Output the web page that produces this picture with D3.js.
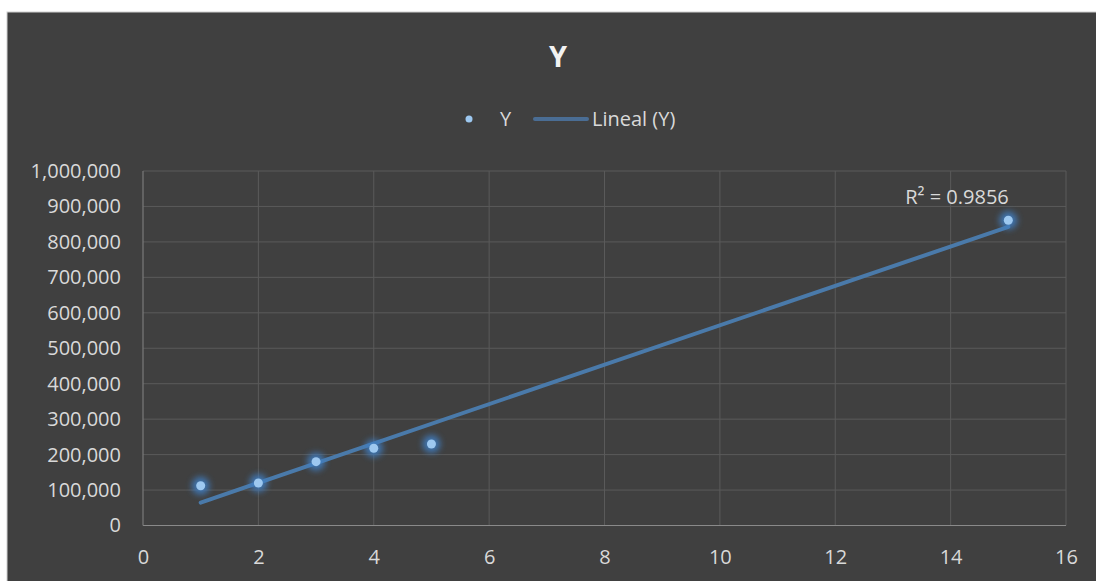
<!DOCTYPE html>
<html><head><meta charset="utf-8">
<script src="https://cdn.jsdelivr.net/npm/d3@7"></script>
<style>html,body{margin:0;padding:0;background:#fff;overflow:hidden}</style>
</head><body>
<svg id="c" width="1096" height="581"></svg>
<script>
const xValues = [1, 2, 3, 4, 5, 15];
const yValues = [112000, 120000, 180000, 218000, 230000, 861000];
const xTicks = [0, 2, 4, 6, 8, 10, 12, 14, 16];
const yTicks = [0, 100000, 200000, 300000, 400000, 500000, 600000, 700000, 800000, 900000, 1000000];
const r2Label = "R² = 0.9856";
const seriesName = "Y";
const trendName = "Lineal (Y)";

const svg = d3.select("#c");
const font = "'Open Sans', 'Noto Sans', sans-serif";
svg.append("rect").attr("x", 7).attr("y", 12).attr("width", 1100).attr("height", 580)
  .attr("fill", "#404040").attr("stroke", "#d0d0d0").attr("stroke-width", 1);

const x = d3.scaleLinear().domain([0, 16]).range([143, 1066]);
const y = d3.scaleLinear().domain([0, 1000000]).range([525.5, 171]);

const defs = svg.append("defs");
const f = defs.append("filter").attr("id", "glow").attr("x", "-100%").attr("y", "-100%").attr("width", "300%").attr("height", "300%");
f.append("feGaussianBlur").attr("stdDeviation", 3);

const g = svg.append("g");
g.selectAll(".hg").data(yTicks.slice(1)).join("line")
  .attr("x1", x(0)).attr("x2", x(16)).attr("y1", d => y(d)).attr("y2", d => y(d))
  .attr("stroke", "#5a5a5a").attr("stroke-width", 1);
g.selectAll(".vg").data(xTicks.slice(1)).join("line")
  .attr("x1", d => x(d)).attr("x2", d => x(d)).attr("y1", y(0)).attr("y2", y(1000000))
  .attr("stroke", "#5a5a5a").attr("stroke-width", 1);
g.append("line").attr("x1", x(0)).attr("x2", x(16)).attr("y1", y(0)).attr("y2", y(0)).attr("stroke", "#8a8a8a").attr("stroke-width", 1.2);
g.append("line").attr("x1", x(0)).attr("x2", x(0)).attr("y1", y(0)).attr("y2", y(1000000)).attr("stroke", "#7a7a7a").attr("stroke-width", 1.2);

const yAxis = d3.axisLeft(y).tickValues(yTicks).tickFormat(d3.format(",")).tickSize(0).tickPadding(22);
const ya = svg.append("g").attr("transform", `translate(${x(0)},0)`).call(yAxis);
ya.select(".domain").remove();
ya.selectAll("text").attr("fill", "#d9d9d9").style("font-family", font).style("font-size", "20px");
const xAxis = d3.axisBottom(x).tickValues(xTicks).tickSize(0).tickPadding(24);
const xa = svg.append("g").attr("transform", `translate(0,${y(0)})`).call(xAxis);
xa.select(".domain").remove();
xa.selectAll("text").attr("fill", "#d9d9d9").style("font-family", font).style("font-size", "20px");

const n = xValues.length;
const mx = d3.mean(xValues), my = d3.mean(yValues);
let sxy = 0, sxx = 0;
for (let i = 0; i < n; i++) { sxy += (xValues[i] - mx) * (yValues[i] - my); sxx += (xValues[i] - mx) ** 2; }
const slope = sxy / sxx, icpt = my - slope * mx;
const x0 = d3.min(xValues), x1 = d3.max(xValues);
svg.append("line").attr("x1", x(x0)).attr("y1", y(icpt + slope * x0)).attr("x2", x(x1)).attr("y2", y(icpt + slope * x1))
  .attr("stroke", "#4a7aaa").attr("stroke-width", 4).attr("stroke-linecap", "round");

const pts = xValues.map((v, i) => [v, yValues[i]]);
svg.append("g").selectAll("circle").data(pts).join("circle")
  .attr("cx", d => x(d[0])).attr("cy", d => y(d[1])).attr("r", 9)
  .attr("fill", "#3f7fc4").attr("opacity", 0.85).attr("filter", "url(#glow)");
svg.append("g").selectAll("circle").data(pts).join("circle")
  .attr("cx", d => x(d[0])).attr("cy", d => y(d[1])).attr("r", 4.5)
  .attr("fill", "#9dc8f0");

svg.append("text").attr("x", 957).attr("y", 204).attr("text-anchor", "middle")
  .attr("fill", "#d9d9d9").style("font-family", font).style("font-size", "20px").text(r2Label);

svg.append("text").attr("x", 558).attr("y", 67).attr("text-anchor", "middle")
  .attr("fill", "#f2f2f2").style("font-family", font).style("font-size", "29px").style("font-weight", "bold").text(seriesName);

svg.append("circle").attr("cx", 469).attr("cy", 119).attr("r", 3.5).attr("fill", "#9dc8f0");
svg.append("text").attr("x", 500).attr("y", 126).attr("fill", "#d9d9d9").style("font-family", font).style("font-size", "20px").text(seriesName);
svg.append("line").attr("x1", 535).attr("x2", 587).attr("y1", 119).attr("y2", 119).attr("stroke", "#4a6d94").attr("stroke-width", 4).attr("stroke-linecap", "round");
svg.append("text").attr("x", 592).attr("y", 126).attr("fill", "#d9d9d9").style("font-family", font).style("font-size", "20px").text(trendName);
</script>
</body></html>
